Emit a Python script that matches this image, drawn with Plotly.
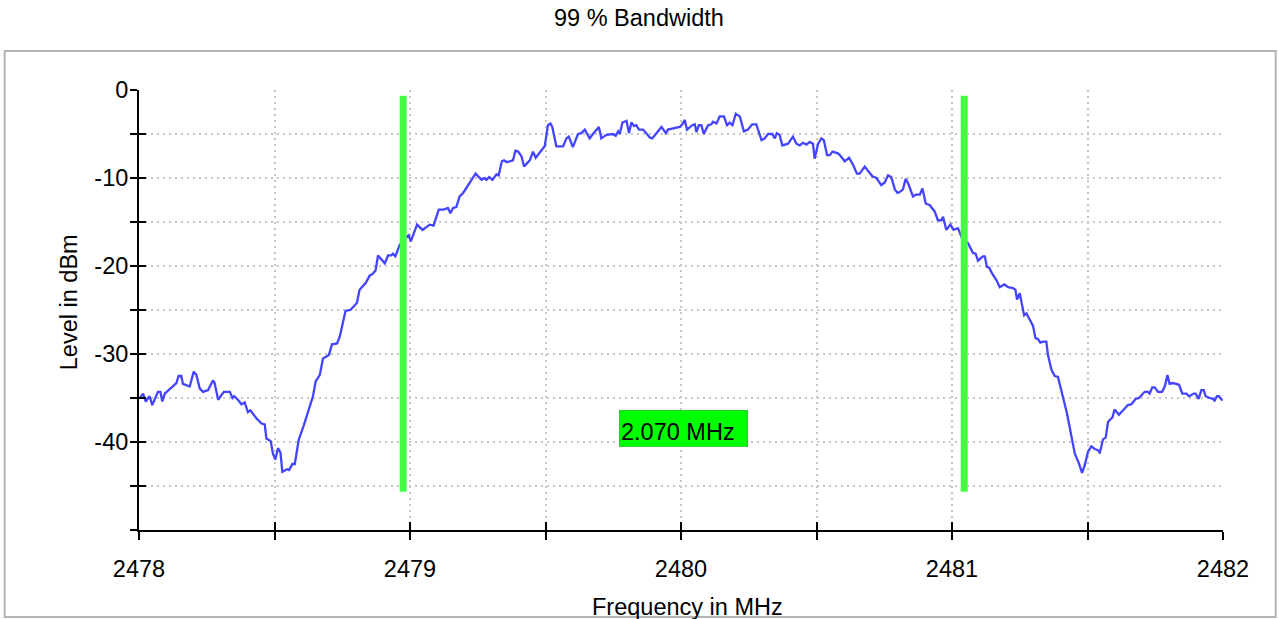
import plotly.graph_objects as go

# ---- data ----
freq_mhz = [
    2478.003, 2478.015, 2478.025, 2478.039, 2478.049, 2478.070, 2478.079, 2478.086, 2478.095, 2478.138,
    2478.146, 2478.156, 2478.162, 2478.187, 2478.202, 2478.212, 2478.224, 2478.236, 2478.255, 2478.273,
    2478.279, 2478.292, 2478.313, 2478.335, 2478.345, 2478.351, 2478.365, 2478.378, 2478.390, 2478.402,
    2478.411, 2478.433, 2478.452, 2478.464, 2478.470, 2478.486, 2478.494, 2478.503, 2478.513, 2478.522,
    2478.529, 2478.546, 2478.554, 2478.566, 2478.575, 2478.589, 2478.608, 2478.624, 2478.642, 2478.652,
    2478.667, 2478.679, 2478.701, 2478.712, 2478.731, 2478.741, 2478.762, 2478.780, 2478.796, 2478.804,
    2478.814, 2478.825, 2478.837, 2478.851, 2478.862, 2478.873, 2478.882, 2478.907, 2478.919, 2478.931,
    2478.937, 2478.946, 2478.962, 2478.980, 2478.995, 2479.003, 2479.026, 2479.046, 2479.073, 2479.087,
    2479.106, 2479.124, 2479.140, 2479.149, 2479.159, 2479.171, 2479.183, 2479.196, 2479.220, 2479.242,
    2479.264, 2479.276, 2479.282, 2479.292, 2479.304, 2479.319, 2479.327, 2479.339, 2479.347, 2479.358,
    2479.380, 2479.389, 2479.399, 2479.411, 2479.421, 2479.442, 2479.454, 2479.464, 2479.479, 2479.497,
    2479.509, 2479.518, 2479.525, 2479.540, 2479.565, 2479.577, 2479.586, 2479.601, 2479.620, 2479.632,
    2479.645, 2479.663, 2479.675, 2479.697, 2479.706, 2479.725, 2479.749, 2479.759, 2479.768, 2479.774,
    2479.784, 2479.799, 2479.808, 2479.817, 2479.827, 2479.835, 2479.845, 2479.860, 2479.885, 2479.894,
    2479.928, 2479.944, 2479.952, 2479.977, 2479.995, 2480.005, 2480.014, 2480.022, 2480.042, 2480.051,
    2480.057, 2480.066, 2480.075, 2480.084, 2480.100, 2480.112, 2480.118, 2480.131, 2480.143, 2480.158,
    2480.170, 2480.180, 2480.190, 2480.202, 2480.217, 2480.232, 2480.247, 2480.263, 2480.278, 2480.297,
    2480.309, 2480.321, 2480.337, 2480.346, 2480.354, 2480.364, 2480.374, 2480.395, 2480.413, 2480.426,
    2480.438, 2480.450, 2480.463, 2480.475, 2480.487, 2480.493, 2480.506, 2480.518, 2480.527, 2480.539,
    2480.549, 2480.559, 2480.579, 2480.586, 2480.604, 2480.620, 2480.635, 2480.649, 2480.659, 2480.678,
    2480.706, 2480.721, 2480.739, 2480.752, 2480.764, 2480.776, 2480.789, 2480.799, 2480.807, 2480.819,
    2480.829, 2480.838, 2480.850, 2480.856, 2480.866, 2480.881, 2480.891, 2480.903, 2480.918, 2480.936,
    2480.948, 2480.961, 2480.967, 2480.979, 2480.994, 2481.006, 2481.022, 2481.035, 2481.059, 2481.077,
    2481.087, 2481.096, 2481.114, 2481.121, 2481.129, 2481.137, 2481.149, 2481.164, 2481.176, 2481.182,
    2481.194, 2481.207, 2481.225, 2481.234, 2481.240, 2481.250, 2481.256, 2481.266, 2481.275, 2481.287,
    2481.299, 2481.308, 2481.317, 2481.326, 2481.336, 2481.348, 2481.354, 2481.367, 2481.379, 2481.391,
    2481.407, 2481.424, 2481.441, 2481.453, 2481.468, 2481.480, 2481.490, 2481.502, 2481.514, 2481.527,
    2481.542, 2481.545, 2481.557, 2481.567, 2481.576, 2481.592, 2481.600, 2481.616, 2481.634, 2481.649,
    2481.662, 2481.678, 2481.690, 2481.711, 2481.723, 2481.729, 2481.739, 2481.748, 2481.760, 2481.775,
    2481.785, 2481.795, 2481.803, 2481.815, 2481.838, 2481.850, 2481.865, 2481.875, 2481.892, 2481.899,
    2481.910, 2481.920, 2481.929, 2481.936, 2481.951, 2481.963, 2481.969, 2481.978, 2481.985, 2481.998,
]

level_dbm = [
    -35.0, -34.5, -35.4, -34.8, -35.8, -34.3, -34.3, -35.4, -34.5, -33.3,
    -32.5, -32.5, -33.4, -33.7, -32.0, -32.4, -33.9, -34.3, -34.1, -33.0,
    -33.3, -35.2, -34.3, -34.3, -35.0, -34.8, -35.2, -35.7, -35.5, -36.6,
    -36.4, -37.3, -37.9, -38.0, -39.6, -39.9, -41.3, -42.0, -40.7, -41.2,
    -43.4, -43.1, -43.2, -42.5, -42.5, -39.8, -38.1, -36.6, -34.8, -33.1,
    -32.4, -30.5, -30.1, -28.9, -28.8, -28.0, -25.1, -25.0, -24.4, -24.2,
    -22.7, -22.3, -21.9, -21.1, -20.9, -20.5, -18.8, -19.7, -18.8, -18.8,
    -18.6, -18.9, -17.6, -16.9, -16.5, -17.2, -15.3, -15.9, -15.3, -15.4,
    -13.6, -13.6, -13.4, -14.0, -13.4, -13.3, -12.1, -11.7, -10.6, -9.5,
    -10.2, -10.0, -10.2, -9.9, -10.2, -9.6, -9.7, -8.1, -8.0, -8.2,
    -8.0, -6.9, -7.0, -7.5, -8.7, -8.0, -7.0, -7.7, -7.1, -6.4,
    -4.0, -3.8, -4.2, -6.4, -6.4, -5.5, -5.3, -6.5, -5.0, -4.9,
    -4.5, -5.5, -5.0, -4.2, -5.5, -5.1, -5.0, -5.2, -4.7, -5.0,
    -3.7, -3.5, -4.9, -3.7, -4.1, -4.0, -4.5, -4.5, -5.4, -5.5,
    -4.2, -4.9, -4.5, -4.3, -4.2, -3.9, -3.4, -4.5, -4.0, -3.9,
    -4.8, -4.0, -4.0, -5.0, -4.0, -3.9, -3.6, -3.8, -3.0, -3.0,
    -4.0, -3.7, -4.0, -2.7, -3.0, -4.7, -4.5, -3.9, -3.9, -5.7,
    -5.5, -5.0, -5.0, -5.5, -4.9, -5.1, -6.3, -6.1, -5.3, -6.1,
    -6.3, -6.0, -6.2, -5.9, -6.1, -7.8, -6.1, -5.5, -5.7, -7.4,
    -7.4, -7.0, -7.2, -7.4, -8.1, -7.7, -8.5, -9.5, -9.5, -8.7,
    -9.8, -10.0, -10.8, -10.5, -9.7, -9.9, -11.3, -11.7, -11.6, -11.3,
    -10.1, -10.6, -11.6, -12.1, -11.9, -11.9, -11.2, -12.9, -13.1, -13.8,
    -14.8, -14.8, -14.4, -15.9, -15.3, -15.9, -15.7, -16.7, -17.4, -18.5,
    -18.6, -19.4, -18.9, -18.9, -20.1, -20.2, -20.9, -21.6, -22.4, -22.3,
    -22.1, -22.4, -22.5, -22.7, -23.8, -23.1, -23.9, -25.6, -25.4, -26.1,
    -26.8, -28.2, -28.3, -28.7, -28.6, -28.6, -30.1, -31.8, -32.5, -32.6,
    -34.5, -36.7, -39.4, -41.3, -42.4, -43.5, -42.6, -41.1, -40.5, -40.8,
    -41.0, -41.3, -39.7, -39.5, -37.7, -37.2, -36.3, -36.9, -36.3, -35.8,
    -35.7, -35.1, -35.0, -34.3, -34.3, -34.5, -33.8, -33.8, -34.3, -34.3,
    -33.7, -32.4, -33.4, -33.3, -33.5, -34.5, -34.5, -34.8, -34.5, -34.5,
    -35.1, -34.1, -34.1, -34.8, -35.0, -35.1, -35.3, -34.8, -34.8, -35.3,
]

bw_edges_mhz = [2478.975, 2481.045]      # 99 % occupied bandwidth markers
marker_level_span = [-0.65, -45.65]      # vertical extent of the marker lines
label_level = -38.5                      # level at which the bandwidth label sits

x_tick_vals = [2478, 2479, 2480, 2481, 2482]
x_tick_text = ["2478", "2479", "2480", "2481", "2482"]
y_tick_vals = [0, -10, -20, -30, -40]
y_tick_text = ["0", "-10", "-20", "-30", "-40"]

X_RANGE = [2478, 2482]
Y_RANGE = [-50, 0]

FONT = "Liberation Sans, Arial, sans-serif"
FS = 23.5
GRID = "#c6c6c6"

fig = go.Figure()

# spectrum trace
fig.add_trace(go.Scatter(x=freq_mhz, y=level_dbm, mode="lines",
                         line=dict(color="#4444ff", width=2.3),
                         showlegend=False, hoverinfo="skip"))

# bandwidth marker lines
for f in bw_edges_mhz:
    fig.add_trace(go.Scatter(x=[f, f], y=marker_level_span, mode="lines",
                             line=dict(color="#44ff44", width=7),
                             showlegend=False, hoverinfo="skip"))

# dummy trace to activate overlay axes (inside tick halves)
fig.add_trace(go.Scatter(x=[None], y=[None], xaxis="x2", yaxis="y2",
                         showlegend=False, hoverinfo="skip"))

bw = bw_edges_mhz[1] - bw_edges_mhz[0]
fig.add_annotation(x=(bw_edges_mhz[0] + bw_edges_mhz[1]) / 2, y=label_level,
                   xref="x", yref="y", text=f"{bw:.3f} MHz", showarrow=False,
                   font=dict(family=FONT, size=FS, color="black"),
                   bgcolor="#00ff00", bordercolor="#2fc92f", borderwidth=1,
                   borderpad=1, width=125, height=33, align="left", valign="bottom")

# title
fig.add_annotation(text="99 % Bandwidth", xref="paper", yref="paper",
                   x=(639.5 - 139.3) / 1084, y=(530 - 18) / 440,
                   xanchor="center", yanchor="middle",
                   showarrow=False, font=dict(family=FONT, size=FS, color="black"))
# y axis title
fig.add_annotation(text="Level in dBm", xref="paper", yref="paper",
                   x=(69.5 - 139.3) / 1084, y=(530 - 302) / 440, textangle=-90,
                   xanchor="center", yanchor="middle", showarrow=False,
                   font=dict(family=FONT, size=FS, color="black"))
# x axis title
fig.add_annotation(text="Frequency in MHz", xref="paper", yref="paper",
                   x=(688 - 139.3) / 1084, y=(530 - 607) / 440,
                   xanchor="center", yanchor="middle", showarrow=False,
                   font=dict(family=FONT, size=FS, color="black"))

# outer frame
fig.add_shape(type="rect", xref="paper", yref="paper",
              x0=(5 - 139.3) / 1084, x1=(1276 - 139.3) / 1084,
              y0=(530 - 617) / 440, y1=(530 - 51) / 440,
              line=dict(color="#b4b4b4", width=2), fillcolor="rgba(0,0,0,0)",
              layer="below")

grid_common = dict(showgrid=True, gridcolor=GRID, gridwidth=2, griddash="2px,4px")

fig.update_layout(
    width=1279, height=619,
    margin=dict(l=139, r=56, t=90, b=89, pad=0),
    paper_bgcolor="white", plot_bgcolor="white",
    font=dict(family=FONT, size=FS, color="black"),
    xaxis=dict(range=X_RANGE, tickmode="array", tickvals=x_tick_vals, ticktext=x_tick_text,
               ticks="outside", ticklen=8, tickwidth=2, tickcolor="black",
               showline=True, linewidth=2, linecolor="black", zeroline=False,
               ticklabelstandoff=9,
               minor=dict(dtick=0.5, tick0=2478, ticks="outside", ticklen=8, tickwidth=2,
                          tickcolor="black", **grid_common),
               **grid_common),
    yaxis=dict(range=Y_RANGE, tickmode="array", tickvals=y_tick_vals, ticktext=y_tick_text,
               ticks="outside", ticklen=7, tickwidth=2, tickcolor="black",
               showline=True, linewidth=2, linecolor="black", zeroline=False,
               ticklabelstandoff=-3,
               minor=dict(dtick=5, tick0=0, ticks="outside", ticklen=7, tickwidth=2,
                          tickcolor="black", **grid_common),
               **grid_common),
    xaxis2=dict(range=X_RANGE, overlaying="x", anchor="y2", side="bottom",
                tickmode="array", tickvals=x_tick_vals, showticklabels=False,
                ticks="inside", ticklen=8, tickwidth=2, tickcolor="black",
                showgrid=False, showline=False, zeroline=False,
                minor=dict(dtick=0.5, tick0=2478, ticks="inside", ticklen=8, tickwidth=2,
                           tickcolor="black", showgrid=False)),
    yaxis2=dict(range=Y_RANGE, overlaying="y", anchor="x2", side="left",
                tickmode="array", tickvals=y_tick_vals, showticklabels=False,
                ticks="inside", ticklen=7, tickwidth=2, tickcolor="black",
                showgrid=False, showline=False, zeroline=False,
                minor=dict(dtick=5, tick0=0, ticks="inside", ticklen=7, tickwidth=2,
                           tickcolor="black", showgrid=False)),
)

fig.write_html("out.html")
